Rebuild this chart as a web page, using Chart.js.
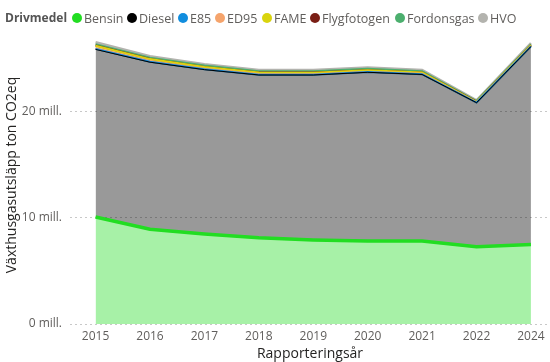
<!DOCTYPE html>
<html>
<head>
<meta charset="utf-8">
<script src="https://cdn.jsdelivr.net/npm/chart.js@4/dist/chart.umd.min.js"></script>
<style>
  html, body { margin: 0; padding: 0; background: #fff; }
  #wrap { position: relative; width: 550px; height: 362px; }
  #legend { position: absolute; left: 0; top: 0; width: 550px; height: 30px;
            font-family: "Open Sans", "Noto Sans", sans-serif; font-size: 12.5px; color: #605E5C; white-space: nowrap; }
  #legend .title { position: absolute; left: 5px; top: 9px; font-weight: bold; font-size: 12px; color: #555; }
  #legend .item { position: absolute; top: 9px; display: flex; align-items: center; height: 18px; }
  #legend .dot { width: 10px; height: 10px; border-radius: 50%; margin-right: 2px; }
</style>
</head>
<body>
<div id="wrap">
  <canvas id="c" width="550" height="362"></canvas>
  <div id="legend"></div>
</div>
<script>
const legendTitle = "Drivmedel";
const years = ["2015","2016","2017","2018","2019","2020","2021","2022","2024"];
const seriesNames = ["Bensin","Diesel","E85","ED95","FAME","Flygfotogen","Fordonsgas","HVO"];
const seriesColors = ["#22dd22","#000000","#118DDE","#F5A46C","#D9D40E","#7A1E15","#4CAF6E","#B3B3AE"];
const bensin      = [10.05, 8.9, 8.45, 8.1, 7.9, 7.8, 7.8, 7.25, 7.48];
const diesel      = [15.75, 15.7, 15.45, 15.3, 15.5, 15.85, 15.65, 13.55, 18.6];
const e85         = [0.05, 0.04, 0.03, 0.03, 0.02, 0.02, 0.02, 0.01, 0.01];
const ed95        = [0.08, 0.07, 0.06, 0.05, 0.05, 0.04, 0.04, 0.02, 0.02];
const fame        = [0.22, 0.18, 0.15, 0.14, 0.14, 0.13, 0.12, 0.05, 0.08];
const flygfotogen = [0.01, 0.01, 0.01, 0.01, 0.01, 0.01, 0.01, 0.01, 0.01];
const fordonsgas  = [0.12, 0.12, 0.13, 0.12, 0.12, 0.13, 0.12, 0.06, 0.07];
const hvo         = [0.20, 0.14, 0.13, 0.11, 0.12, 0.13, 0.10, 0.06, 0.12];
const yTicks = [0, 10, 20];
const yTickSuffix = " mill.";
const yTitle = "Växthusgasutsläpp ton CO2eq";
const xTitle = "Rapporteringsår";

const seriesValues = [bensin, diesel, e85, ed95, fame, flygfotogen, fordonsgas, hvo];
const lineWidths = [3.5, 1, 2, 2, 2, 2, 2, 2.5];
const legendLefts = [72, 127, 178, 215, 262, 310, 395, 478];

function hexToRgba(hex, a) {
  const n = parseInt(hex.slice(1), 16);
  return `rgba(${(n >> 16) & 255},${(n >> 8) & 255},${n & 255},${a})`;
}

// legend
const lg = document.getElementById('legend');
const t = document.createElement('span'); t.className = 'title'; t.textContent = legendTitle; lg.appendChild(t);
seriesNames.forEach((name, i) => {
  const it = document.createElement('span'); it.className = 'item';
  it.style.left = legendLefts[i] + 'px';
  const d = document.createElement('span'); d.className = 'dot'; d.style.background = seriesColors[i];
  const s = document.createElement('span'); s.textContent = name;
  it.appendChild(d); it.appendChild(s); lg.appendChild(it);
});

const datasets = seriesNames.map((name, i) => ({
  label: name,
  data: seriesValues[i].map((v, j) => ({ x: j, y: v })),
  borderColor: seriesColors[i],
  backgroundColor: hexToRgba(seriesColors[i], 0.4),
  borderWidth: lineWidths[i],
  fill: i === 0 ? 'origin' : '-1',
  pointRadius: 0,
  tension: 0,
  order: i
}));

const font = "'Open Sans', 'Noto Sans', sans-serif";
new Chart(document.getElementById('c'), {
  type: 'line',
  data: { datasets },
  options: {
    responsive: false,
    animation: false,
    layout: { padding: { top: 26, right: 0, left: 0, bottom: 0 } },
    plugins: { legend: { display: false }, tooltip: { enabled: false } },
    scales: {
      x: {
        type: 'linear',
        min: -0.47, max: 8.35,
        grid: { display: false, drawTicks: false },
        border: { display: false },
        afterBuildTicks: s => { s.ticks = years.map((_, i) => ({ value: i })); },
        afterFit: s => { s.height = 38; },
        ticks: { padding: 5, maxRotation: 0, autoSkip: false, color: '#605E5C',
                 font: { family: font, size: 12 },
                 callback: v => years[v] ?? '' },
        title: { display: true, text: xTitle, color: '#252423', padding: { top: 0, bottom: 0 },
                 font: { family: font, size: 14 } }
      },
      y: {
        stacked: true,
        min: 0, max: 28,
        afterBuildTicks: s => { s.ticks = yTicks.map(v => ({ value: v })); },
        afterFit: s => { s.width = 70; },
        grid: { color: '#c8c8c8', lineWidth: 1, drawTicks: false },
        border: { display: false, dash: [2, 3] },
        ticks: { padding: 8, color: '#605E5C', font: { family: font, size: 12 },
                 callback: v => v + yTickSuffix },
        title: { display: true, text: yTitle, color: '#252423', padding: { top: 4, bottom: 0 },
                 font: { family: font, size: 14 } }
      }
    }
  }
});
</script>
</body>
</html>
